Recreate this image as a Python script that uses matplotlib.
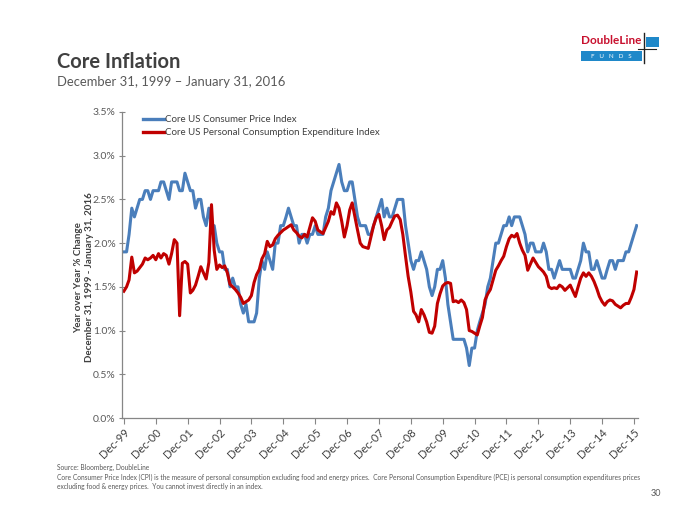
import matplotlib
matplotlib.use("Agg")
import matplotlib.pyplot as plt
from matplotlib.patches import Rectangle
from matplotlib.lines import Line2D
import pandas as pd

plt.rcParams['font.family'] = ['Lato', 'DejaVu Sans']

# ---------------- data (YoY %, monthly, Dec-1999 .. Jan-2016) ----------------
start_date = '1999-12-31'

cpi_1999 = [1.9]
cpi_2000 = [1.9, 2.1, 2.4, 2.3, 2.4, 2.5, 2.5, 2.6, 2.6, 2.5, 2.6, 2.6]
cpi_2001 = [2.6, 2.7, 2.7, 2.6, 2.5, 2.7, 2.7, 2.7, 2.6, 2.6, 2.8, 2.7]
cpi_2002 = [2.6, 2.6, 2.4, 2.5, 2.5, 2.3, 2.2, 2.4, 2.2, 2.2, 2.0, 1.9]
cpi_2003 = [1.9, 1.7, 1.7, 1.5, 1.6, 1.5, 1.5, 1.3, 1.2, 1.3, 1.1, 1.1]
cpi_2004 = [1.1, 1.2, 1.6, 1.8, 1.7, 1.9, 1.8, 1.7, 2.0, 2.0, 2.2, 2.2]
cpi_2005 = [2.3, 2.4, 2.3, 2.2, 2.2, 2.0, 2.1, 2.1, 2.0, 2.1, 2.1, 2.2]
cpi_2006 = [2.1, 2.1, 2.1, 2.3, 2.4, 2.6, 2.7, 2.8, 2.9, 2.7, 2.6, 2.6]
cpi_2007 = [2.7, 2.7, 2.5, 2.3, 2.2, 2.2, 2.2, 2.1, 2.1, 2.2, 2.3, 2.4]
cpi_2008 = [2.5, 2.3, 2.4, 2.3, 2.3, 2.4, 2.5, 2.5, 2.5, 2.2, 2.0, 1.8]
cpi_2009 = [1.7, 1.8, 1.8, 1.9, 1.8, 1.7, 1.5, 1.4, 1.5, 1.7, 1.7, 1.8]
cpi_2010 = [1.6, 1.3, 1.1, 0.9, 0.9, 0.9, 0.9, 0.9, 0.8, 0.6, 0.8, 0.8]
cpi_2011 = [1.0, 1.1, 1.2, 1.3, 1.5, 1.6, 1.8, 2.0, 2.0, 2.1, 2.2, 2.2]
cpi_2012 = [2.3, 2.2, 2.3, 2.3, 2.3, 2.2, 2.1, 1.9, 2.0, 2.0, 1.9, 1.9]
cpi_2013 = [1.9, 2.0, 1.9, 1.7, 1.7, 1.6, 1.7, 1.8, 1.7, 1.7, 1.7, 1.7]
cpi_2014 = [1.6, 1.6, 1.7, 1.8, 2.0, 1.9, 1.9, 1.7, 1.7, 1.8, 1.7, 1.6]
cpi_2015 = [1.6, 1.7, 1.8, 1.8, 1.7, 1.8, 1.8, 1.8, 1.9, 1.9, 2.0, 2.1]
cpi_2016 = [2.2]

pce_1999 = [1.45]
pce_2000 = [1.50, 1.58, 1.84, 1.66, 1.68, 1.72, 1.76, 1.83, 1.81, 1.83, 1.86, 1.81]
pce_2001 = [1.88, 1.83, 1.88, 1.86, 1.76, 1.88, 2.04, 2.00, 1.17, 1.77, 1.79, 1.76]
pce_2002 = [1.43, 1.46, 1.52, 1.62, 1.73, 1.66, 1.59, 1.78, 2.44, 1.92, 1.70, 1.75]
pce_2003 = [1.72, 1.74, 1.66, 1.53, 1.50, 1.47, 1.43, 1.38, 1.31, 1.33, 1.35, 1.40]
pce_2004 = [1.55, 1.64, 1.70, 1.82, 1.88, 2.02, 1.96, 1.98, 2.05, 2.09, 2.12, 2.15]
pce_2005 = [2.17, 2.19, 2.21, 2.15, 2.12, 2.08, 2.06, 2.10, 2.07, 2.18, 2.29, 2.25]
pce_2006 = [2.15, 2.13, 2.11, 2.18, 2.25, 2.36, 2.33, 2.46, 2.40, 2.25, 2.07, 2.20]
pce_2007 = [2.38, 2.46, 2.30, 2.15, 2.00, 1.96, 1.95, 1.94, 2.07, 2.20, 2.29, 2.33]
pce_2008 = [2.20, 2.04, 2.15, 2.18, 2.25, 2.31, 2.32, 2.27, 2.10, 1.85, 1.62, 1.44]
pce_2009 = [1.22, 1.18, 1.10, 1.24, 1.18, 1.10, 0.98, 0.97, 1.05, 1.31, 1.42, 1.51]
pce_2010 = [1.54, 1.55, 1.54, 1.33, 1.34, 1.32, 1.35, 1.32, 1.24, 1.00, 0.99, 0.97]
pce_2011 = [0.95, 1.05, 1.15, 1.35, 1.42, 1.47, 1.58, 1.69, 1.74, 1.80, 1.85, 1.96]
pce_2012 = [2.05, 2.09, 2.07, 2.11, 2.00, 1.92, 1.86, 1.69, 1.76, 1.83, 1.78, 1.73]
pce_2013 = [1.70, 1.67, 1.62, 1.50, 1.48, 1.49, 1.48, 1.52, 1.50, 1.46, 1.49, 1.52]
pce_2014 = [1.45, 1.39, 1.50, 1.60, 1.66, 1.62, 1.66, 1.62, 1.56, 1.48, 1.39, 1.33]
pce_2015 = [1.29, 1.33, 1.35, 1.34, 1.30, 1.28, 1.26, 1.29, 1.31, 1.31, 1.38, 1.47]
pce_2016 = [1.67]

cpi = (cpi_1999 + cpi_2000 + cpi_2001 + cpi_2002 + cpi_2003 + cpi_2004 + cpi_2005
       + cpi_2006 + cpi_2007 + cpi_2008 + cpi_2009 + cpi_2010 + cpi_2011 + cpi_2012
       + cpi_2013 + cpi_2014 + cpi_2015 + cpi_2016)
pce = (pce_1999 + pce_2000 + pce_2001 + pce_2002 + pce_2003 + pce_2004 + pce_2005
       + pce_2006 + pce_2007 + pce_2008 + pce_2009 + pce_2010 + pce_2011 + pce_2012
       + pce_2013 + pce_2014 + pce_2015 + pce_2016)

series_names = ['Core US Consumer Price Index',
                'Core US Personal Consumption Expenditure Index']
y_ticks = [0.0, 0.5, 1.0, 1.5, 2.0, 2.5, 3.0, 3.5]
x_tick_labels = ['Dec-99', 'Dec-00', 'Dec-01', 'Dec-02', 'Dec-03', 'Dec-04', 'Dec-05',
                 'Dec-06', 'Dec-07', 'Dec-08', 'Dec-09', 'Dec-10', 'Dec-11', 'Dec-12',
                 'Dec-13', 'Dec-14', 'Dec-15']

dates = pd.date_range(start_date, periods=len(cpi), freq='ME')
tick_dates = pd.date_range(start_date, periods=len(x_tick_labels), freq='12ME')

# ---------------- figure ----------------
fig = plt.figure(figsize=(7.0, 5.25), dpi=100)
fig.patch.set_facecolor('white')

ax = fig.add_axes([0.1743, 0.2038, 0.7371, 0.5829])

blue = '#4A7EBB'
red = '#C00000'
ax.plot(dates, cpi, color=blue, lw=2.2, label=series_names[0], solid_joinstyle='round')
ax.plot(dates, pce, color=red, lw=2.2, label=series_names[1], solid_joinstyle='round')

ax.set_ylim(0, 3.5)
ax.set_yticks(y_ticks)
ax.set_yticklabels([f'{v:.1f}%' for v in y_ticks])
ax.set_xlim(pd.Timestamp('1999-12-10'), pd.Timestamp('2016-02-15'))
ax.set_xticks(tick_dates)
ax.set_xticklabels(x_tick_labels, rotation=45, ha='right', rotation_mode='anchor')

axis_col = '#868686'
text_col = '#595959'
for s in ['top', 'right']:
    ax.spines[s].set_visible(False)
for s in ['left', 'bottom']:
    ax.spines[s].set_color(axis_col)
    ax.spines[s].set_linewidth(0.9)
ax.tick_params(axis='y', direction='inout', length=5, width=0.8, color=axis_col,
               labelsize=7.5, labelcolor=text_col, pad=2)
ax.tick_params(axis='x', direction='out', length=4, width=0.8, color=axis_col,
               labelsize=8, labelcolor='#404040', pad=2)

ax.set_ylabel('Year over Year % Change\nDecember 31, 1999 - January 31, 2016',
              fontsize=7.0, color='#404040', fontweight='bold', linespacing=1.25,
              va='center', ha='center')
ax.yaxis.set_label_coords(-0.073, 0.46)

leg = ax.legend(loc='upper left', bbox_to_anchor=(0.04, 0.99), frameon=False,
                fontsize=7.0, handlelength=2.2, handletextpad=0.1,
                labelspacing=0.45, borderpad=0, borderaxespad=0)
for t in leg.get_texts():
    t.set_color('#404040')
for h in leg.get_lines():
    h.set_linewidth(2.4)

# ---------------- titles ----------------
fig.text(57 / 700, 1 - 62 / 525, 'Core Inflation', fontsize=14.5, fontweight='bold',
         color='#404040', va='center', ha='left')
fig.text(57 / 700, 1 - 82 / 525, 'December 31, 1999 \u2013 January 31, 2016',
         fontsize=9.4, color='#595959', va='center', ha='left')

# ---------------- logo ----------------
fig.text(611 / 700, 1 - 41 / 525, 'DoubleLine', fontsize=8.5, fontweight='bold',
         color='#C8102E', ha='center', va='center')
fig.patches.append(Rectangle((581 / 700, 1 - 61 / 525), 61 / 700, 10 / 525,
                             transform=fig.transFigure, facecolor='#1F88C9',
                             edgecolor='none'))
fig.text(611 / 700, 1 - 56 / 525, 'F   U   N   D   S', fontsize=4.5, color='white',
         ha='center', va='center')
fig.patches.append(Rectangle((646 / 700, 1 - 47 / 525), 13 / 700, 10 / 525,
                             transform=fig.transFigure, facecolor='#1F88C9',
                             edgecolor='none'))
fig.lines.append(Line2D([644 / 700, 644 / 700], [1 - 33 / 525, 1 - 63 / 525],
                        transform=fig.transFigure, color='#222222', lw=1.0))
fig.lines.append(Line2D([638 / 700, 656 / 700], [1 - 49 / 525, 1 - 49 / 525],
                        transform=fig.transFigure, color='#222222', lw=0.8))

# ---------------- footer ----------------
foot_col = '#595959'
fig.text(57 / 700, 1 - 467 / 525, 'Source: Bloomberg, DoubleLine', fontsize=4.8,
         color=foot_col, ha='left', va='center')
fig.text(57 / 700, 1 - 477 / 525,
         'Core Consumer Price Index (CPI) is the measure of personal consumption excluding food and energy prices.  '
         'Core Personal Consumption Expenditure (PCE) is personal consumption expenditures prices',
         fontsize=4.75, color=foot_col, ha='left', va='center')
fig.text(57 / 700, 1 - 487 / 525,
         'excluding food & energy prices.  You cannot invest directly in an index.',
         fontsize=4.75, color=foot_col, ha='left', va='center')
fig.text(661 / 700, 1 - 493 / 525, '30', fontsize=6.5, color=foot_col,
         ha='right', va='center')

fig.savefig('out.png', dpi=100, facecolor='white')
